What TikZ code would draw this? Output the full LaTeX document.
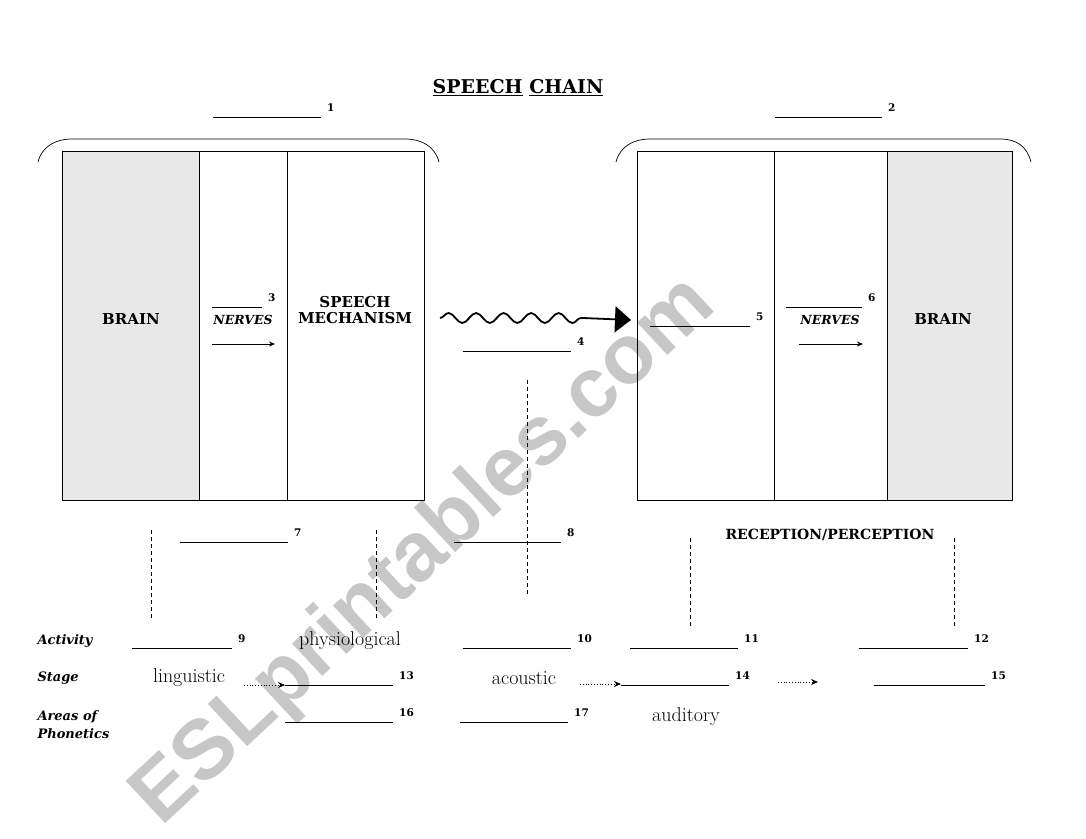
\documentclass[tikz,border=0pt]{standalone}
\usepackage{fontspec}
\newfontfamily\slabfont{DejaVu Serif}
\newfontfamily\markfont{Liberation Sans}
\usetikzlibrary{arrows.meta,decorations.pathmorphing}
\tikzset{
  heading/.style={font=\slabfont\bfseries\fontsize{15}{17}\selectfont},
  nervetxt/.style={font=\slabfont\bfseries\itshape\fontsize{12.5}{14}\selectfont},
  rowtxt/.style={font=\slabfont\bfseries\itshape\fontsize{13}{18}\selectfont,anchor=west,align=left},
  stagetxt/.style={font=\fontsize{20}{22}\selectfont},
  numtxt/.style={font=\slabfont\bfseries\fontsize{10.5}{12}\selectfont,anchor=west,inner sep=0pt},
  blank/.style={line width=0.8pt},
  guide/.style={line width=0.6pt,dash pattern=on 4pt off 3pt},
  nervearrow/.style={-{Stealth[length=6pt,width=5pt]},line width=0.8pt},
  steparrow/.style={dotted,-{Stealth[length=7pt,width=6pt]},line width=0.8pt},
  shade/.style={fill=black!9}
}
\newcommand{\blankline}[4]{% x1, x2, y, number
  \draw[blank] (#1,#3) -- (#2,#3);
  \node[numtxt] (n#4) at ([xshift=6pt,yshift=9pt]#2,#3) {#4};}
\begin{document}
\begin{tikzpicture}[x=1pt,y=-1pt]
  \useasboundingbox (0,0) rectangle (1086,838);
  \node[font=\markfont\bfseries\fontsize{84}{86}\selectfont,text=black!22,rotate=43] (mark) at (425,552) {ESLprintables.com};
  \node[font=\slabfont\bfseries\fontsize{19}{21}\selectfont] (title) at (518,88) {\underline{SPEECH} \underline{CHAIN}};
  \blankline{213}{321}{117}{1}
  \blankline{775}{882}{117}{2}
  % speaker side
  \draw[line width=0.7pt] (38,162) .. controls (42,146) and (56,139) .. (72,139) -- (405,139) .. controls (421,139) and (435,146) .. (439,162);
  \draw[shade] (62,151) rectangle (199,500);
  \draw[line width=0.8pt] (62,151) rectangle (424,500);
  \draw[line width=0.8pt] (199,151) -- (199,500) (287,151) -- (287,500);
  \node[heading] (brainL) at (131,319) {BRAIN};
  \node[nervetxt] (nervesL) at (243,320) {NERVES};
  \blankline{212}{262}{307}{3}
  \coordinate (aL1) at (212,344); \coordinate (aL2) at (275,344);
  \draw[nervearrow] (aL1) -- (aL2);
  \node[heading,align=center] (mech) at (355,310) {SPEECH\\[-1pt]MECHANISM};
  % sound wave
  \coordinate (w1) at (440,318); \coordinate (w2) at (583,318); \coordinate (w3) at (631,320);
  \draw[line width=1.8pt,decorate,decoration={snake,amplitude=5pt,segment length=27.5pt}] (w1) -- (w2);
  \draw[line width=1.8pt,-{Triangle[length=16pt,width=26pt]}] (w2) -- (w3);
  \blankline{463}{571}{351}{4}
  % listener side
  \draw[line width=0.7pt] (616,162) .. controls (620,146) and (634,139) .. (650,139) -- (1000,139) .. controls (1016,139) and (1027,146) .. (1031,162);
  \draw[shade] (887,151) rectangle (1012,500);
  \draw[line width=0.8pt] (637,151) rectangle (1012,500);
  \draw[line width=0.8pt] (774,151) -- (774,500) (887,151) -- (887,500);
  \blankline{650}{750}{326}{5}
  \blankline{786}{862}{307}{6}
  \node[nervetxt] (nervesR) at (830,320) {NERVES};
  \coordinate (aR1) at (799,344); \coordinate (aR2) at (863,344);
  \draw[nervearrow] (aR1) -- (aR2);
  \node[heading] (brainR) at (943,319) {BRAIN};
  % guides
  \draw[guide] (151,530) -- (151,620);
  \draw[guide] (376,530) -- (376,620);
  \draw[guide] (527,380) -- (527,595);
  \draw[guide] (690,538) -- (690,627);
  \draw[guide] (954,538) -- (954,627);
  \blankline{180}{288}{542}{7}
  \blankline{454}{561}{542}{8}
  \node[font=\slabfont\bfseries\fontsize{14}{16}\selectfont] (recep) at (830,535) {RECEPTION/PERCEPTION};
  % table rows
  \node[rowtxt] (activity) at (34,641) {Activity};
  \node[rowtxt] (stage) at (34,678) {Stage};
  \node[rowtxt] (areas) at (34,725) {Areas of\\Phonetics};
  \blankline{132}{232}{648}{9}
  \node[stagetxt] (physio) at (350,641) {physiological};
  \blankline{463}{571}{648}{10}
  \blankline{630}{738}{648}{11}
  \blankline{859}{968}{648}{12}
  \node[stagetxt] (ling) at (189,678) {linguistic};
  \coordinate (s1) at (244,685); \coordinate (s2) at (285,685);
  \draw[steparrow] (s1) -- (s2);
  \blankline{285}{393}{685}{13}
  \node[stagetxt] (acou) at (524,678) {acoustic};
  \coordinate (s3) at (580,684); \coordinate (s4) at (621,684);
  \draw[steparrow] (s3) -- (s4);
  \blankline{621}{729}{685}{14}
  \coordinate (s5) at (778,682); \coordinate (s6) at (818,682);
  \draw[steparrow] (s5) -- (s6);
  \blankline{874}{985}{685}{15}
  \blankline{285}{393}{722}{16}
  \blankline{460}{568}{722}{17}
  \node[stagetxt] (audi) at (686,717) {auditory};
\end{tikzpicture}
\end{document}
